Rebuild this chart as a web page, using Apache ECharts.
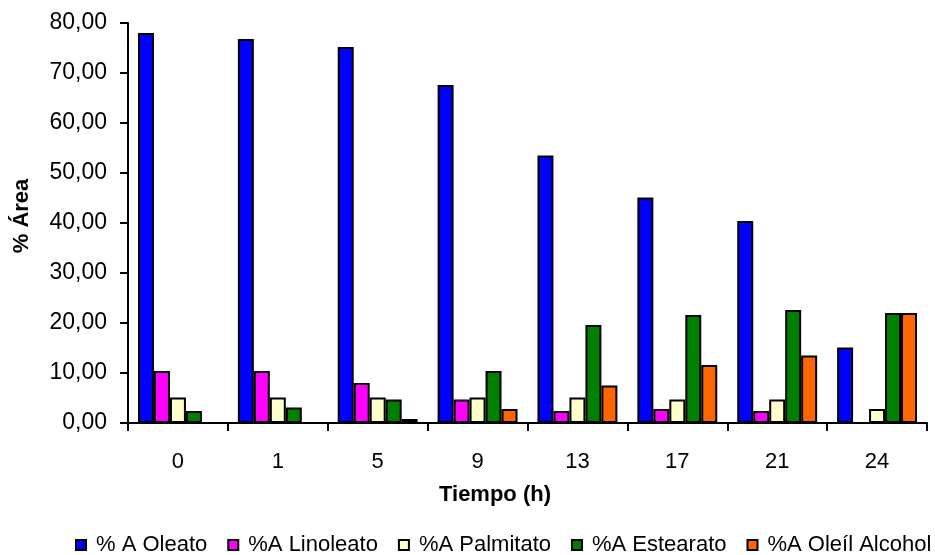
<!DOCTYPE html>
<html>
<head>
<meta charset="utf-8">
<script src="https://cdn.jsdelivr.net/npm/echarts@6/dist/echarts.min.js"></script>
<style>
  html, body { margin: 0; padding: 0; background: #fff; }
  #chart { width: 935px; height: 555px; }
</style>
</head>
<body>
<div id="chart"></div>
<script>
// Sampling times (hours)
const tiempos = ['0', '1', '5', '9', '13', '17', '21', '24'];

// % area of each compound over time
const oleato     = [78.0, 76.8, 75.2, 67.6, 53.5, 45.1, 40.4, 15.1];
const linoleato  = [10.4, 10.4, 8.0, 4.7, 2.4, 2.8, 2.4, 0];
const palmitato  = [5.1, 5.1, 5.1, 5.1, 5.1, 4.7, 4.7, 2.8];
const estearato  = [2.4, 3.1, 4.7, 10.4, 19.6, 21.6, 22.6, 22.0];
const oleilAlcohol = [0, 0, 0.8, 2.8, 7.5, 11.6, 13.5, 22.0];

const seriesNames = ['% A Oleato', '%A Linoleato', '%A Palmitato', '%A Estearato', '%A Oleíl Alcohol'];
const seriesData = [oleato, linoleato, palmitato, estearato, oleilAlcohol];
const seriesColors = ['#0000FF', '#FF00FF', '#FFFFCC', '#008000', '#FF6600'];

const FONT = '"Liberation Sans", Arial, sans-serif';

const chart = echarts.init(document.getElementById('chart'), null, { renderer: 'canvas' });

chart.setOption({
  animation: false,
  backgroundColor: '#ffffff',
  textStyle: { fontFamily: FONT, color: '#000' },
  grid: { left: 128, right: 8, top: 23, bottom: 132, containLabel: false },
  legend: {
    top: 534,
    left: 75,
    padding: 0,
    itemWidth: 10,
    itemHeight: 10,
    itemGap: 20,
    icon: 'rect',
    textStyle: { fontFamily: FONT, fontSize: 22, color: '#000', padding: [0, 0, 0, 5] },
    data: seriesNames
  },
  xAxis: {
    type: 'category',
    data: tiempos,
    name: 'Tiempo (h)',
    nameLocation: 'middle',
    nameGap: 61,
    nameTextStyle: { fontFamily: FONT, fontSize: 22, fontWeight: 'bold', color: '#000', padding: [0, 65, 0, 0] },
    axisLine: { lineStyle: { color: '#000', width: 2 } },
    axisTick: { show: true, length: 8, lineStyle: { color: '#000', width: 2 } },
    axisLabel: { fontFamily: FONT, fontSize: 22, color: '#000', margin: 28 },
    splitLine: { show: false }
  },
  yAxis: {
    type: 'value',
    min: 0,
    max: 80,
    interval: 10,
    name: '% Área',
    nameLocation: 'middle',
    nameGap: 95,
    nameRotate: 90,
    nameTextStyle: { fontFamily: 'Liberation Sans', fontSize: 22, fontWeight: 'bold', color: '#000', padding: [0, 0, 0, 14] },
    axisLine: { show: true, lineStyle: { color: '#000', width: 2 } },
    axisTick: { show: true, length: 8, lineStyle: { color: '#000', width: 2 } },
    axisLabel: {
      fontFamily: FONT, fontSize: 23, color: '#000', margin: 21,
      formatter: v => v.toFixed(2).replace('.', ',')
    },
    splitLine: { show: false }
  },
  series: seriesNames.map((name, i) => ({
    name: name,
    type: 'bar',
    data: seriesData[i],
    barGap: '0%',
    barCategoryGap: '20%',
    itemStyle: { color: seriesColors[i], borderColor: '#000', borderWidth: 2 }
  }))
});
</script>
</body>
</html>
